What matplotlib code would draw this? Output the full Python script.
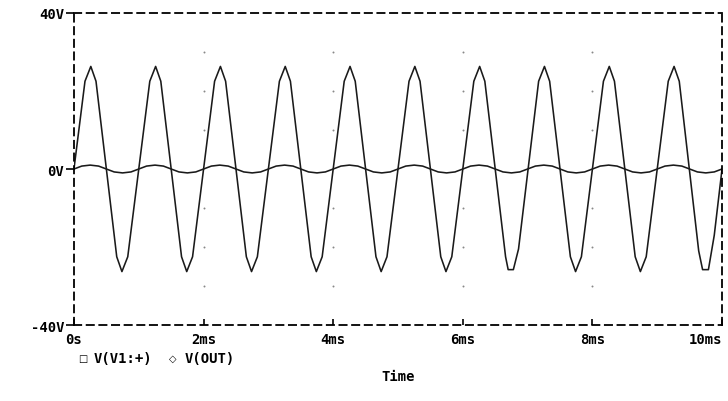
import matplotlib
matplotlib.use("Agg")
import matplotlib.pyplot as plt

# V(OUT): polyline vertices (time in ms, volts)
out_t = [0.00,
         0.17, 0.26, 0.34, 0.66, 0.74, 0.83,
         1.17, 1.26, 1.34, 1.66, 1.74, 1.83,
         2.17, 2.26, 2.34, 2.66, 2.74, 2.83,
         3.17, 3.26, 3.34, 3.66, 3.74, 3.83,
         4.17, 4.26, 4.34, 4.66, 4.74, 4.83,
         5.17, 5.26, 5.34, 5.66, 5.74, 5.83,
         6.17, 6.26, 6.34, 6.66, 6.70, 6.78, 6.86,
         7.17, 7.26, 7.34, 7.66, 7.74, 7.83,
         8.17, 8.26, 8.34, 8.66, 8.74, 8.83,
         9.17, 9.26, 9.34, 9.64, 9.70, 9.79, 9.88,
         10.00]
out_v = [0.0,
         22.5, 26.3, 22.5, -22.5, -26.3, -22.5,
         22.5, 26.3, 22.5, -22.5, -26.3, -22.5,
         22.5, 26.3, 22.5, -22.5, -26.3, -22.5,
         22.5, 26.3, 22.5, -22.5, -26.3, -22.5,
         22.5, 26.3, 22.5, -22.5, -26.3, -22.5,
         22.5, 26.3, 22.5, -22.5, -26.3, -22.5,
         22.5, 26.3, 22.5, -22.5, -25.8, -25.8, -20.5,
         22.5, 26.3, 22.5, -22.5, -26.3, -22.5,
         22.5, 26.3, 22.5, -22.5, -26.3, -22.5,
         22.5, 26.3, 22.5, -21.0, -25.8, -25.8, -17.0,
         0.0]

# V(V1:+): small input sine, vertices
in_t = [0.00,
        0.12, 0.25, 0.38, 0.50, 0.62, 0.75, 0.88,
        1.12, 1.25, 1.38, 1.50, 1.62, 1.75, 1.88,
        2.12, 2.25, 2.38, 2.50, 2.62, 2.75, 2.88,
        3.12, 3.25, 3.38, 3.50, 3.62, 3.75, 3.88,
        4.12, 4.25, 4.38, 4.50, 4.62, 4.75, 4.88,
        5.12, 5.25, 5.38, 5.50, 5.62, 5.75, 5.88,
        6.12, 6.25, 6.38, 6.50, 6.62, 6.75, 6.88,
        7.12, 7.25, 7.38, 7.50, 7.62, 7.75, 7.88,
        8.12, 8.25, 8.38, 8.50, 8.62, 8.75, 8.88,
        9.12, 9.25, 9.38, 9.50, 9.62, 9.75, 9.88,
        10.00]
in_v = [0.0,
        0.75, 1.0, 0.75, 0.0, -0.75, -1.0, -0.75,
        0.75, 1.0, 0.75, 0.0, -0.75, -1.0, -0.75,
        0.75, 1.0, 0.75, 0.0, -0.75, -1.0, -0.75,
        0.75, 1.0, 0.75, 0.0, -0.75, -1.0, -0.75,
        0.75, 1.0, 0.75, 0.0, -0.75, -1.0, -0.75,
        0.75, 1.0, 0.75, 0.0, -0.75, -1.0, -0.75,
        0.75, 1.0, 0.75, 0.0, -0.75, -1.0, -0.75,
        0.75, 1.0, 0.75, 0.0, -0.75, -1.0, -0.75,
        0.75, 1.0, 0.75, 0.0, -0.75, -1.0, -0.75,
        0.75, 1.0, 0.75, 0.0, -0.75, -1.0, -0.75,
        0.0]

x_ticks = [0, 2, 4, 6, 8, 10]
x_labels = ["0s", "2ms", "4ms", "6ms", "8ms", "10ms"]
y_ticks = [-40, 0, 40]
y_labels = ["-40V", "0V", "40V"]
grid_x = [2, 4, 6, 8]
grid_y = [-30, -20, -10, 10, 20, 30]

FONT = "DejaVu Sans Mono"

fig = plt.figure(figsize=(7.28, 4.02), dpi=100)
ax = fig.add_axes([0.1016, 0.189, 0.8902, 0.7762])

ax.plot(out_t, out_v, color="#1a1a1a", lw=1.15)
ax.plot(in_t, in_v, color="#1a1a1a", lw=1.15)

# the dotted grid is just single dots at the tick crossings
for gx in grid_x:
    ax.scatter([gx] * len(grid_y), grid_y, s=2, color="#888888", lw=0)

ax.set_xlim(0, 10)
ax.set_ylim(-40, 40)

for sp in ax.spines.values():
    sp.set_linestyle((0, (4, 3)))
    sp.set_linewidth(1.3)

ax.set_xticks(x_ticks)
ax.set_xticklabels(x_labels, fontfamily=FONT, fontweight="bold", fontsize=10)
ax.set_yticks(y_ticks)
ax.set_yticklabels(y_labels, fontfamily=FONT, fontweight="bold", fontsize=10)
ax.tick_params(axis="x", direction="in", length=4, width=1.2, pad=5)
ax.tick_params(axis="y", direction="out", length=6, width=1.2, pad=1)
ax.get_xticklabels()[-1].set_horizontalalignment("right")
ax.get_xticklabels()[-1].set_x(10.3)

# legend row and axis title, PSpice style
fig.text(0.107, 0.107, "\u25a1", fontsize=7, va="center", ha="left", color="black")
fig.text(0.128, 0.107, "V(V1:+)", fontfamily=FONT, fontweight="bold", fontsize=10, va="center")
fig.text(0.232, 0.107, "\u25c7", fontsize=7, va="center", ha="left", color="black")
fig.text(0.253, 0.107, "V(OUT)", fontfamily=FONT, fontweight="bold", fontsize=10, va="center")
fig.text(0.547, 0.063, "Time", fontfamily=FONT, fontweight="bold", fontsize=10, va="center", ha="center")

fig.savefig("out.png", dpi=100)
